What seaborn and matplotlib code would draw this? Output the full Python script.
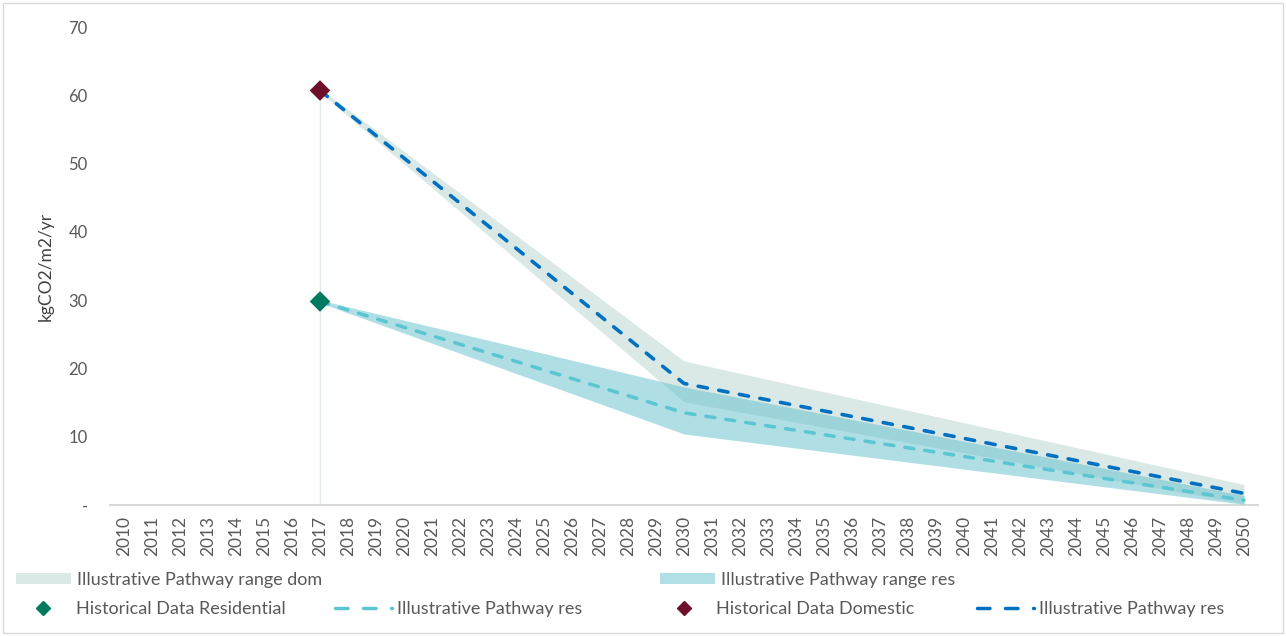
import matplotlib
matplotlib.use('Agg')
import numpy as np
import pandas as pd
import seaborn as sns
import matplotlib.pyplot as plt
from matplotlib.lines import Line2D
from matplotlib.patches import Patch, Rectangle
from matplotlib.font_manager import FontProperties

# ---------------- data ----------------
years = list(range(2010, 2051))
hist_year = [2017]
hist_res = [29.8]
hist_dom = [60.7]
path_years = [2017, 2030, 2050]
dom_path = [60.7, 17.8, 1.7]
dom_low = [60.4, 15.1, 0.2]
dom_high = [61.0, 21.1, 3.0]
res_path = [29.8, 13.5, 0.7]
res_low = [29.6, 10.4, 0.1]
res_high = [30.0, 17.3, 1.4]
y_ticks = [0, 10, 20, 30, 40, 50, 60, 70]
y_ticklabels = ['-', '10', '20', '30', '40', '50', '60', '70']
legend_labels = ['Illustrative Pathway range dom', 'Illustrative Pathway range res',
                 'Historical Data Residential', 'Illustrative Pathway res',
                 'Historical Data Domestic', 'Illustrative Pathway res']

# ---------------- style ----------------
sns.set_theme(style='white')
plt.rcParams['font.family'] = ['Lato', 'DejaVu Sans']

C_DOM_BAND = '#dbe9e6'
C_RES_BAND = '#61c1cd'
C_RES_LINE = '#5bc5d2'
C_DOM_LINE = '#0070c0'
C_RES_HIST = '#007a5e'
C_DOM_HIST = '#6e0f2c'
C_TEXT = '#595959'

W, H = 1286, 636
fig = plt.figure(figsize=(W / 100, H / 100), dpi=100)
ax = fig.add_axes([110 / W, 131 / H, 1148 / W, 478 / H])

ax.vlines(hist_year, 0, hist_dom, color='#e3ebeb', lw=1.0, zorder=1)
ax.fill_between(path_years, dom_low, dom_high, color=C_DOM_BAND, lw=0, zorder=2)
ax.fill_between(path_years, res_low, res_high, color=C_RES_BAND, alpha=0.5, lw=0, zorder=3)

df_res = pd.DataFrame({'year': path_years, 'value': res_path})
df_dom = pd.DataFrame({'year': path_years, 'value': dom_path})
sns.lineplot(data=df_res, x='year', y='value', ax=ax, color=C_RES_LINE, lw=2.5,
             linestyle=(0, (2.6, 3.2)), dash_capstyle='round', zorder=4)
sns.lineplot(data=df_dom, x='year', y='value', ax=ax, color=C_DOM_LINE, lw=2.6,
             linestyle=(0, (2.6, 3.2)), dash_capstyle='round', zorder=4)

sns.scatterplot(x=hist_year, y=hist_res, ax=ax, marker='D', s=110, color=C_RES_HIST,
                edgecolor='none', zorder=5)
sns.scatterplot(x=hist_year, y=hist_dom, ax=ax, marker='D', s=110, color=C_DOM_HIST,
                edgecolor='none', zorder=5)

ax.set_xlim(2009.5, 2050.5)
ax.set_ylim(0, 70)
ax.set_xticks(years)
ax.set_xticklabels([str(y) for y in years], rotation=90, fontsize=12.5, color=C_TEXT)
ax.set_yticks(y_ticks)
ax.set_yticklabels(y_ticklabels, fontsize=12, color=C_TEXT)
ax.tick_params(axis='y', length=0, pad=16)
ax.tick_params(axis='x', length=0, pad=8)
ax.set_xlabel('')
ax.set_ylabel('kgCO2/m2/yr', fontsize=12.5, color='#404040')
ax.yaxis.set_label_coords(-0.049, 0.5)
for s in ['top', 'right', 'left']:
    ax.spines[s].set_visible(False)
ax.spines['bottom'].set_color('#d9d9d9')
ax.spines['bottom'].set_linewidth(1.5)
ax.grid(False)

# ---------------- legend ----------------
leg_font = FontProperties(family=['Lato', 'DejaVu Sans'], size=13)
leg_dash = (0, (3.6, 4.47))
handles = [
    Patch(facecolor=C_DOM_BAND, edgecolor='none'),
    Patch(facecolor='#b0e0e6', edgecolor='none'),
    Line2D([], [], marker='D', linestyle='none', color=C_RES_HIST, markersize=7),
    Line2D([], [], color=C_RES_LINE, lw=2.5, linestyle=leg_dash, dash_capstyle='round'),
    Line2D([], [], marker='D', linestyle='none', color=C_DOM_HIST, markersize=7),
    Line2D([], [], color=C_DOM_LINE, lw=2.5, linestyle=leg_dash, dash_capstyle='round'),
]
# (x px of handle start, y px centre, handlelength, handletextpad)
places = [(16, 580, 3.05, 0.35), (660, 580, 3.05, 0.35),
          (34, 609, 1.0, 1.35), (335, 609, 3.15, 0.3),
          (675, 609, 1.0, 1.25), (977, 609, 3.15, 0.3)]
for h, lab, (px, py, hl, htp) in zip(handles, legend_labels, places):
    fig.legend([h], [lab], loc='center left', bbox_to_anchor=(px / W, 1 - py / H),
               frameon=False, borderpad=0, borderaxespad=0, handlelength=hl,
               handleheight=0.55, handletextpad=htp, prop=leg_font, labelcolor=C_TEXT)

fig.patches.append(Rectangle((3 / W, 3 / H), (W - 6) / W, (H - 6) / H, transform=fig.transFigure,
                             fill=False, edgecolor='#d9d9d9', lw=1.0))

fig.savefig('out.png', dpi=100)
